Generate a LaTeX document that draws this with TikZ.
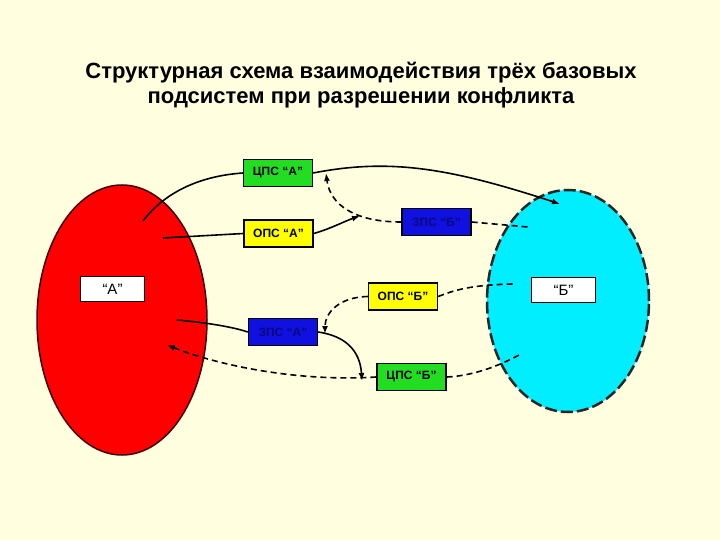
\documentclass[tikz,border=0pt]{standalone}
\usepackage{fontspec}
\setmainfont{Liberation Sans}
\usetikzlibrary{shapes.geometric,arrows.meta}
\definecolor{paper}{RGB}{255,255,224}
\definecolor{redpart}{RGB}{255,0,0}
\definecolor{cyanpart}{RGB}{0,238,255}
\definecolor{greenbox}{RGB}{34,221,34}
\definecolor{yellowbox}{RGB}{255,255,0}
\definecolor{bluebox}{RGB}{16,16,224}
\definecolor{bluetext}{RGB}{10,10,120}
\tikzset{x=1pt, y=-1pt, >={Latex[length=8pt,width=6pt]},
    every node/.append style={font=\bfseries\fontsize{12}{14}\selectfont},
    part/.style={ellipse, inner sep=0pt},
    tag/.style={draw, fill=white, line width=1.3pt, minimum width=64pt, minimum height=25pt,
        font=\fontsize{15}{17}\selectfont},
    subsys/.style={draw, line width=1.4pt, minimum width=69pt, minimum height=27pt, inner sep=0pt},
    link/.style={line width=1.6pt},
    dlink/.style={line width=1.6pt, dash pattern=on 6pt off 4pt}
}

\begin{document}
\begin{tikzpicture}
    \fill[paper] (0,0) rectangle (720,540);
    \useasboundingbox (0,0) rectangle (720,540);
    \node[align=center, font=\bfseries\fontsize{22}{25}\selectfont] (title) at (361,85)
        {Структурная схема взаимодействия трёх базовых\\подсистем при разрешении конфликта};
    % two subsystems
    \node[part, fill=redpart, draw=black!75!red, line width=1.5pt,
        minimum width=170pt, minimum height=270pt] (ellA) at (122,320) {};
    \node[part, fill=cyanpart, draw=black!85, line width=2.5pt, dash pattern=on 12pt off 4pt,
        minimum width=162pt, minimum height=222pt] (ellB) at (568,301) {};
    \node[tag] (tagA) at (112.5,289) {“А”};
    \node[tag] (tagB) at (563.5,290) {“Б”};
    % parts
    \node[subsys, fill=greenbox] (cpsA) at (278,173) {ЦПС “А”};
    \node[subsys, fill=yellowbox] (opsA) at (278.5,233.5) {ОПС “А”};
    \node[subsys, fill=bluebox, text=bluetext] (zpsB) at (436.5,222) {ЗПС “Б”};
    \node[subsys, fill=yellowbox] (opsB) at (403,296.5) {ОПС “Б”};
    \node[subsys, fill=bluebox, text=bluetext] (zpsA) at (283,332) {ЗПС “А”};
    \node[subsys, fill=greenbox] (cpsB) at (411.5,377) {ЦПС “Б”};
    % free ends
    \coordinate (a1) at (143,221);
    \coordinate (a2) at (163,238);
    \coordinate (a3) at (177,320);
    \coordinate (a4) at (167,345);
    \coordinate (b1) at (560,204);
    \coordinate (b2) at (528,227);
    \coordinate (b3) at (513,284);
    \coordinate (b4) at (519,355);
    \coordinate (j1) at (360,216);
    \coordinate (c1) at (326,173);
    \coordinate (c2) at (325,334);
    \coordinate (c3) at (362,381);
    % links
    \draw[link] (a1) .. controls (165,192) and (200,176) .. (cpsA.west);
    \draw[link, ->] (cpsA.east) .. controls (390,158) and (450,168) .. (b1);
    \draw[link] (a2) -- (opsA.west);
    \draw[link, ->] (opsA.east) .. controls (330,229) and (345,221) .. (j1);
    \draw[dlink, ->] (zpsB.west) .. controls (355,222) and (330,205) .. (c1);
    \draw[dlink] (zpsB.east) -- (b2);
    \draw[dlink] (opsB.east) .. controls (455,290) and (470,285) .. (b3);
    \draw[dlink, ->] (opsB.west) .. controls (340,297) and (325,312) .. (c2);
    \draw[link] (a3) .. controls (200,322) and (230,326) .. (zpsA.west);
    \draw[link, ->] (zpsA.east) .. controls (345,336) and (360,350) .. (c3);
    \draw[dlink, ->] (cpsB.west) .. controls (300,382) and (220,366) .. (a4);
    \draw[dlink] (cpsB.east) .. controls (470,376) and (495,368) .. (b4);
\end{tikzpicture}
\end{document}
